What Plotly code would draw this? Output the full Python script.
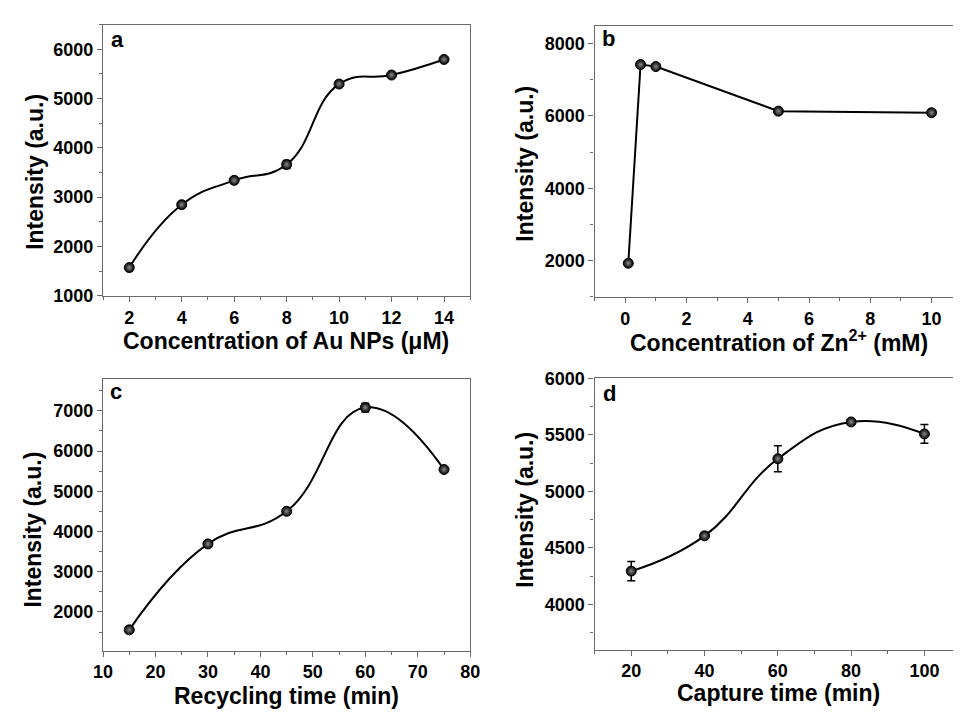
import plotly.graph_objects as go

# Panel a: Au NP concentration
au_conc = [2, 4, 6, 8, 10, 12, 14]
au_int = [1572, 2848, 3341, 3663, 5294, 5477, 5793]
au_err = [0, 0, 0, 80, 0, 0, 0]

# Panel b: Zn2+ concentration
zn_conc = [0.1, 0.5, 1, 5, 10]
zn_int = [1928, 7420, 7366, 6133, 6090]

# Panel c: recycling time
rec_time = [15, 30, 45, 60, 75]
rec_int = [1556, 3691, 4502, 7080, 5541]
rec_err = [0, 0, 0, 110, 0]

# Panel d: capture time
cap_time = [20, 40, 60, 80, 100]
cap_int = [4295, 4607, 5289, 5615, 5509]
cap_err = [85, 15, 115, 10, 83]

W, H = 963, 717
FONT = "Liberation Sans"
AXC = "#6a6a6a"

fig = go.Figure()

marker = dict(size=10, color="black",
              gradient=dict(type="radial", color="#8a8a8a"),
              line=dict(width=1, color="black"))

def add_series(x, y, xa, ya, shape, err=None):
    tr = dict(x=x, y=y, mode="lines+markers", xaxis=xa, yaxis=ya,
              line=dict(color="black", width=2, shape=shape),
              marker=marker, showlegend=False, cliponaxis=False)
    if shape == "spline":
        tr["line"]["smoothing"] = 1.3
    if err is not None:
        tr["error_y"] = dict(type="data", array=err, color="black",
                             thickness=1.5, width=4)
    fig.add_trace(go.Scatter(**tr))

add_series(au_conc, au_int, "x", "y", "spline", au_err)
add_series(zn_conc, zn_int, "x2", "y2", "linear")
add_series(rec_time, rec_int, "x3", "y3", "spline", rec_err)
add_series(cap_time, cap_int, "x4", "y4", "spline", cap_err)

tickfont = dict(family=FONT, size=18, color="black", weight="bold")

def axis(dom, rng, dtick, mdt, anchor, mirror=True):
    return dict(domain=dom, range=rng, dtick=dtick, tick0=0, anchor=anchor,
                showgrid=False, zeroline=False, showline=True, linecolor=AXC,
                linewidth=1.3, mirror=mirror, ticks="outside", ticklen=5,
                tickwidth=1.2, tickcolor=AXC, tickfont=tickfont,
                minor=dict(dtick=mdt, ticks="outside", ticklen=3,
                           tickcolor=AXC, tickwidth=1, showgrid=False))

xl = [95 / W, 470 / W]
xr = [597 / W, 1.0]
ya_dom = [1 - 294 / H, 1 - 15 / H]
yb_dom = [1 - 295 / H, 1 - 16 / H]
yc_dom = [1 - 659 / H, 1 - 380 / H]
yd_dom = [1 - 658 / H, 1 - 379 / H]

fig.update_layout(
    width=W, height=H, margin=dict(l=0, r=0, t=0, b=0),
    paper_bgcolor="white", plot_bgcolor="white",
    xaxis=axis(xl, [1, 15], 2, 1, "y"),
    yaxis=axis(ya_dom, [1000, 6500], 1000, 500, "x"),
    xaxis2=axis(xr, [-1, 10.7], 2, 1, "y2"),
    yaxis2=axis(yb_dom, [1000, 8500], 2000, 1000, "x2", mirror=False),
    xaxis3=axis(xl, [10, 80], 10, 5, "y3"),
    yaxis3=axis(yc_dom, [1040, 7780], 1000, 500, "x3"),
    xaxis4=axis(xr, [10, 107.8], 20, 10, "y4"),
    yaxis4=axis(yd_dom, [3600, 6000], 500, 250, "x4", mirror=False),
)

titlefont = dict(family=FONT, size=23, color="black", weight="bold")
labelfont = dict(family=FONT, size=22, color="black", weight="bold")

def titles(xtitle, ytitle, letter, xcen, xt_y, yt_x, ycen, lx, ly):
    fig.add_annotation(text=xtitle, x=xcen / W, y=1 - xt_y / H, xref="paper",
                       yref="paper", showarrow=False, font=titlefont,
                       xanchor="center", yanchor="middle")
    fig.add_annotation(text=ytitle, x=yt_x / W, y=1 - ycen / H, xref="paper",
                       yref="paper", showarrow=False, font=titlefont,
                       textangle=-90, xanchor="center", yanchor="middle")
    fig.add_annotation(text=letter, x=lx / W, y=1 - ly / H, xref="paper",
                       yref="paper", showarrow=False, font=labelfont,
                       xanchor="center", yanchor="middle")

titles("Concentration of Au NPs (\u03bcM)", "Intensity (a.u.)", "a",
       282, 341, 26, 166, 110, 30)
titles("Concentration of Zn<sup>2+</sup> (mM)", "Intensity (a.u.)", "b",
       785, 341, 526, 158, 611, 29)
titles("Recycling time (min)", "Intensity (a.u.)", "c",
       282, 706, 24, 535, 108, 392)
titles("Capture time (min)", "Intensity (a.u.)", "d",
       785, 703, 526, 514, 612, 394)

fig.write_html("out.html")
